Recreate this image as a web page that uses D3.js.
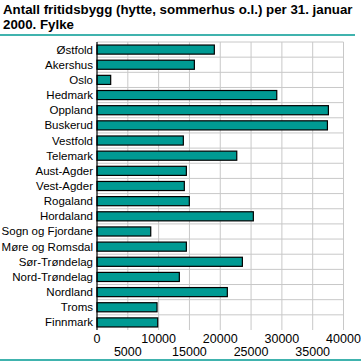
<!DOCTYPE html>
<html>
<head>
<meta charset="utf-8">
<script src="https://cdn.jsdelivr.net/npm/d3@7"></script>
<style>
  body { margin: 0; background: #fff; }
  text { font-family: "Liberation Sans", Arial, sans-serif; }
</style>
</head>
<body>
<div id="chart"></div>
<script>
var fylker = ["Østfold", "Akershus", "Oslo", "Hedmark", "Oppland", "Buskerud", "Vestfold",
  "Telemark", "Aust-Agder", "Vest-Agder", "Rogaland", "Hordaland", "Sogn og Fjordane",
  "Møre og Romsdal", "Sør-Trøndelag", "Nord-Trøndelag", "Nordland", "Troms", "Finnmark"];
var antall = [19040, 15800, 2220, 29170, 37550, 37390, 14010, 22680, 14500, 14170,
  14980, 25370, 8720, 14500, 23590, 13360, 21150, 9740, 9850];
var ticks = [0, 5000, 10000, 15000, 20000, 25000, 30000, 35000, 40000];

var width = 361, height = 361;
var plotLeft = 97, plotRight = 343.5, plotTop = 42, plotBottom = 330;

var svg = d3.select("#chart").append("svg")
  .attr("width", width)
  .attr("height", height);

// title
var title = svg.append("text")
  .attr("font-weight", "bold")
  .attr("font-size", 13.3)
  .attr("fill", "#000");
title.append("tspan").attr("x", 3).attr("y", 14)
  .text("Antall fritidsbygg (hytte, sommerhus o.l.) per 31. januar");
title.append("tspan").attr("x", 3).attr("y", 29).text("2000. Fylke");

svg.append("line")
  .attr("x1", 0).attr("x2", 355).attr("y1", 35).attr("y2", 35)
  .attr("stroke", "#009a93").attr("stroke-width", 1.5);
svg.append("line")
  .attr("x1", 0).attr("x2", 361).attr("y1", 360).attr("y2", 360)
  .attr("stroke", "#009a93").attr("stroke-width", 1.5);

var x = d3.scaleLinear().domain([0, 40000]).range([plotLeft, plotRight]);
var y = d3.scaleBand().domain(fylker).range([plotTop, plotBottom]).paddingInner(0.4).paddingOuter(0.2);
var rows = d3.scaleBand().domain(fylker).range([plotTop, plotBottom]);

// grid
svg.append("g").selectAll("line")
  .data(ticks.slice(1))
  .enter().append("line")
  .attr("x1", d => x(d)).attr("x2", d => x(d))
  .attr("y1", plotTop).attr("y2", plotBottom)
  .attr("stroke", "#c8c8c8").attr("stroke-width", 1);

svg.append("g").selectAll("line")
  .data(fylker)
  .enter().append("line")
  .attr("x1", plotLeft).attr("x2", plotRight)
  .attr("y1", d => rows(d)).attr("y2", d => rows(d))
  .attr("stroke", "#c8c8c8").attr("stroke-width", 1);

// bars
svg.append("g").selectAll("rect")
  .data(antall)
  .enter().append("rect")
  .attr("x", x(0))
  .attr("y", (d, i) => y(fylker[i]))
  .attr("width", d => x(d) - x(0))
  .attr("height", y.bandwidth())
  .attr("fill", "#009a93")
  .attr("stroke", "#000")
  .attr("stroke-width", 1.2);

// left axis line
svg.append("line")
  .attr("x1", plotLeft).attr("x2", plotLeft).attr("y1", plotTop).attr("y2", plotBottom)
  .attr("stroke", "#000").attr("stroke-width", 1.2);

// category labels
svg.append("g").selectAll("text")
  .data(fylker)
  .enter().append("text")
  .attr("x", plotLeft - 4)
  .attr("y", d => rows(d) + rows.bandwidth() / 2)
  .attr("dy", "0.35em")
  .attr("text-anchor", "end")
  .attr("font-size", 11.5)
  .text(d => d);

// tick labels, staggered
svg.append("g").selectAll("text")
  .data(ticks)
  .enter().append("text")
  .attr("x", d => x(d))
  .attr("y", (d, i) => i % 2 == 0 ? 343 : 356)
  .attr("text-anchor", "middle")
  .attr("font-size", 12.5)
  .text(d => d);
</script>
</body>
</html>
